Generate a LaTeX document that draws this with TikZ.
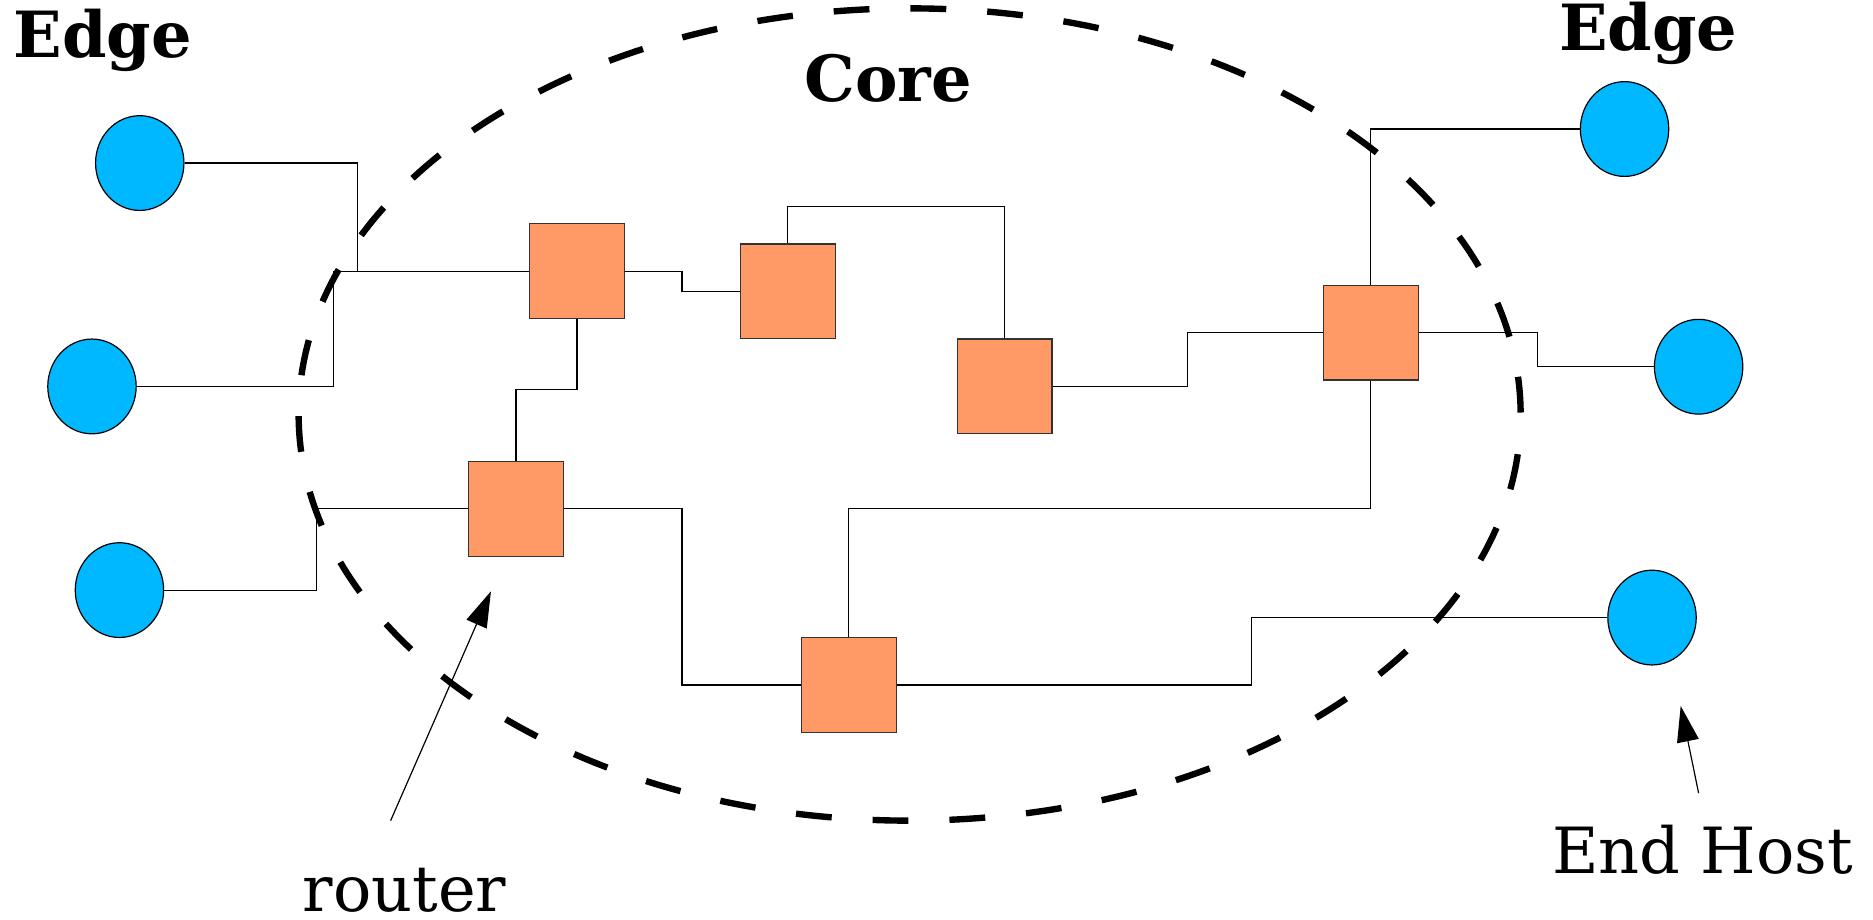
\documentclass[tikz,border=0pt]{standalone}
\usepackage{fontspec}
\setmainfont{DejaVu Serif}
\usetikzlibrary{arrows.meta,shapes.geometric}
\definecolor{hostblue}{HTML}{00B8FF}
\definecolor{routerorange}{HTML}{FF9966}
\definecolor{edgegray}{HTML}{333333}
\begin{document}
\begin{tikzpicture}[x=0.6pt,y=-0.6pt,
  host/.style={ellipse,draw=black,line width=0.6pt,fill=hostblue,minimum width=44.4pt,minimum height=47.6pt,inner sep=0pt},
  router/.style={rectangle,draw=edgegray,line width=0.6pt,fill=routerorange,minimum width=47.6pt,minimum height=47.6pt,inner sep=0pt},
  link/.style={draw=black,line width=0.6pt},
  title/.style={font=\bfseries\fontsize{32}{38}\selectfont,anchor=base west,inner sep=0pt},
  label/.style={font=\fontsize{32}{38}\selectfont,anchor=base west,inner sep=0pt},
  pointer/.style={draw=black,line width=0.6pt,-{Triangle[length=18pt,width=11pt]}},
  core/.style={draw=black,line width=3.2pt,dash pattern=on 18pt off 20.6pt,dash phase=18.6pt}]
\useasboundingbox (0,0) rectangle (1568,770);
% end hosts
\node[host] (h1) at (117,136.5) {};
\node[host] (h2) at (77,323.5) {};
\node[host] (h3) at (100,494) {};
\node[host] (h4) at (1360,108) {};
\node[host] (h5) at (1422,307) {};
\node[host] (h6) at (1383,517) {};
% routers
\node[router] (r1) at (483,227) {};
\node[router] (r2) at (659.5,244) {};
\node[router] (r3) at (841,323.5) {};
\node[router] (r4) at (1147.5,278.5) {};
\node[router] (r5) at (432,426) {};
\node[router] (r6) at (710.5,573.5) {};
% links
\draw[link] (h1.east) -| (299,227) -- (r1.west);
\draw[link] (h2.east) -| (279,227) -- (r1.west);
\draw[link] (h3.east) -| (265,426) -- (r5.west);
\draw[link] (r1.east) -- (571,227) |- (r2.west);
\draw[link] (r1.south) |- (432,326) -- (r5.north);
\draw[link] (r2.north) |- (841,173) -- (r3.north);
\draw[link] (r3.east) -- (994,323.5) |- (r4.west);
\draw[link] (r4.north) |- (h4.west);
\draw[link] (r4.east) -- (1287,278.5) |- (h5.west);
\draw[link] (r4.south) |- (710.5,426) -- (r6.north);
\draw[link] (r5.east) -- (571,426) |- (r6.west);
\draw[link] (r6.east) -- (1048,573.5) |- (h6.west);
% core boundary
\draw[core] (761.5,347) ellipse [x radius=511.5, y radius=340];
% titles
\node[title] (edgeL) at (11,48) {Edge};
\node[title] (coreT) at (673,85) {Core};
\node[title] (edgeR) at (1305,42) {Edge};
% labels and pointers
\node[label] (lrouter) at (253,763) {router};
\node[label] (lhost) at (1299,731) {End Host};
\coordinate (rtail) at (327,687);
\coordinate (rtip) at (411,495);
\coordinate (htail) at (1422,664);
\coordinate (htip) at (1407,591);
\draw[pointer] (rtail) -- (rtip);
\draw[pointer] (htail) -- (htip);
\end{tikzpicture}
\end{document}
